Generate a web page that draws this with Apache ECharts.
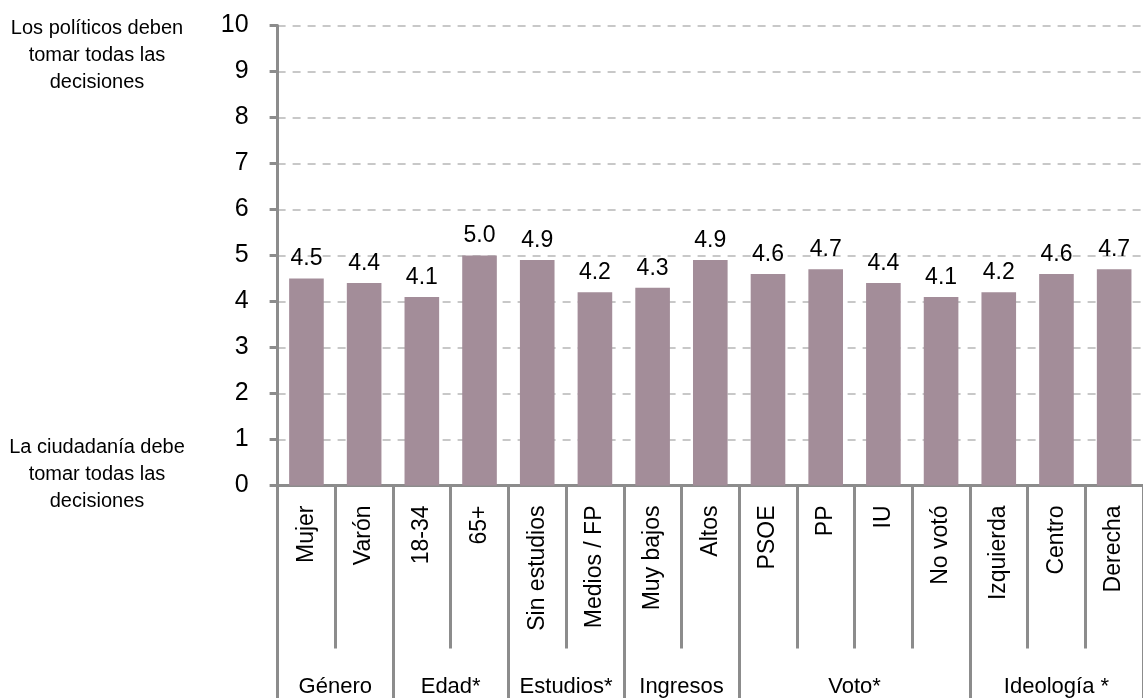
<!DOCTYPE html>
<html>
<head>
<meta charset="utf-8">
<script src="https://cdn.jsdelivr.net/npm/echarts@6/dist/echarts.min.js"></script>
<style>
  html, body { margin: 0; padding: 0; background: #fff; }
  #chart { width: 1143px; height: 698px; }
</style>
</head>
<body>
<div id="chart"></div>
<script>
// Subgroup categories along the bottom axis
const categories = ['Mujer', 'Varón', '18-34', '65+', 'Sin estudios', 'Medios / FP',
  'Muy bajos', 'Altos', 'PSOE', 'PP', 'IU', 'No votó', 'Izquierda', 'Centro', 'Derecha'];
// Mean position on the 0-10 scale for each subgroup
const values = [4.5, 4.4, 4.1, 5.0, 4.9, 4.2, 4.3, 4.9, 4.6, 4.7, 4.4, 4.1, 4.2, 4.6, 4.7];
// Grouping variables and how many subgroups each one spans
const groupNames = ['Género', 'Edad*', 'Estudios*', 'Ingresos', 'Voto*', 'Ideología *'];
const groupSizes = [2, 2, 2, 2, 4, 3];
// Y axis ticks
const yTicks = [0, 1, 2, 3, 4, 5, 6, 7, 8, 9, 10];
// Scale end labels
const topNote = 'Los políticos deben\ntomar todas las\ndecisiones';
const bottomNote = 'La ciudadanía debe\ntomar todas las\ndecisiones';

// Group boundaries and centres in category units
const groupEdges = [0];
groupSizes.forEach(s => groupEdges.push(groupEdges[groupEdges.length - 1] + s));
const groupCenters = groupNames.map((_, i) => (groupEdges[i] + groupEdges[i + 1]) / 2);

const AXIS = '#8C8C8C';
const FONT = '"Liberation Sans", Arial, sans-serif';

const chart = echarts.init(document.getElementById('chart'), null, { renderer: 'canvas' });

chart.setOption({
  animation: false,
  backgroundColor: '#ffffff',
  grid: { left: 277.6, top: 25.5, height: 460, width: 873.6, containLabel: false },
  xAxis: [
    {
      type: 'category',
      data: categories,
      boundaryGap: true,
      axisLine: { show: true, lineStyle: { color: AXIS, width: 3 } },
      axisTick: { show: true, interval: 0, length: 163, lineStyle: { color: AXIS, width: 3 } },
      axisLabel: {
        interval: 0, rotate: 90, margin: 20,
        color: '#000', fontFamily: FONT, fontSize: 23
      },
      splitLine: { show: false }
    },
    {
      type: 'value',
      min: 0,
      max: categories.length,
      position: 'bottom',
      axisLine: { show: false },
      axisTick: {
        show: true, length: 213, customValues: groupEdges,
        lineStyle: { color: AXIS, width: 3 }
      },
      axisLabel: {
        show: true, margin: 190, customValues: groupCenters,
        color: '#000', fontFamily: FONT, fontSize: 22,
        formatter: v => {
          const i = groupCenters.findIndex(c => Math.abs(c - v) < 1e-6);
          return i >= 0 ? groupNames[i] : '';
        }
      },
      splitLine: { show: false }
    }
  ],
  yAxis: {
    type: 'value',
    min: yTicks[0],
    max: yTicks[yTicks.length - 1],
    interval: 1,
    axisLine: { show: true, lineStyle: { color: AXIS, width: 3 } },
    axisTick: { show: true, length: 8, lineStyle: { color: AXIS, width: 3 } },
    axisLabel: { margin: 29, color: '#000', fontFamily: FONT, fontSize: 25 },
    splitLine: { show: true, lineStyle: { color: '#C8C8C8', width: 2, type: [8, 7] } }
  },
  series: [{
    type: 'bar',
    data: values,
    barWidth: '60%',
    itemStyle: { color: '#A38D99' },
    label: {
      show: true, position: 'top', distance: 8,
      color: '#000', fontFamily: FONT, fontSize: 23,
      formatter: p => p.value.toFixed(1)
    }
  }],
  graphic: [
    {
      type: 'text', x: 97, y: 15,
      style: {
        text: topNote, x: 0, y: 0, align: 'center', verticalAlign: 'top',
        font: '20px ' + FONT, lineHeight: 27, fill: '#000'
      }
    },
    {
      type: 'text', x: 97, y: 434,
      style: {
        text: bottomNote, x: 0, y: 0, align: 'center', verticalAlign: 'top',
        font: '20px ' + FONT, lineHeight: 27, fill: '#000'
      }
    }
  ]
});
</script>
</body>
</html>
